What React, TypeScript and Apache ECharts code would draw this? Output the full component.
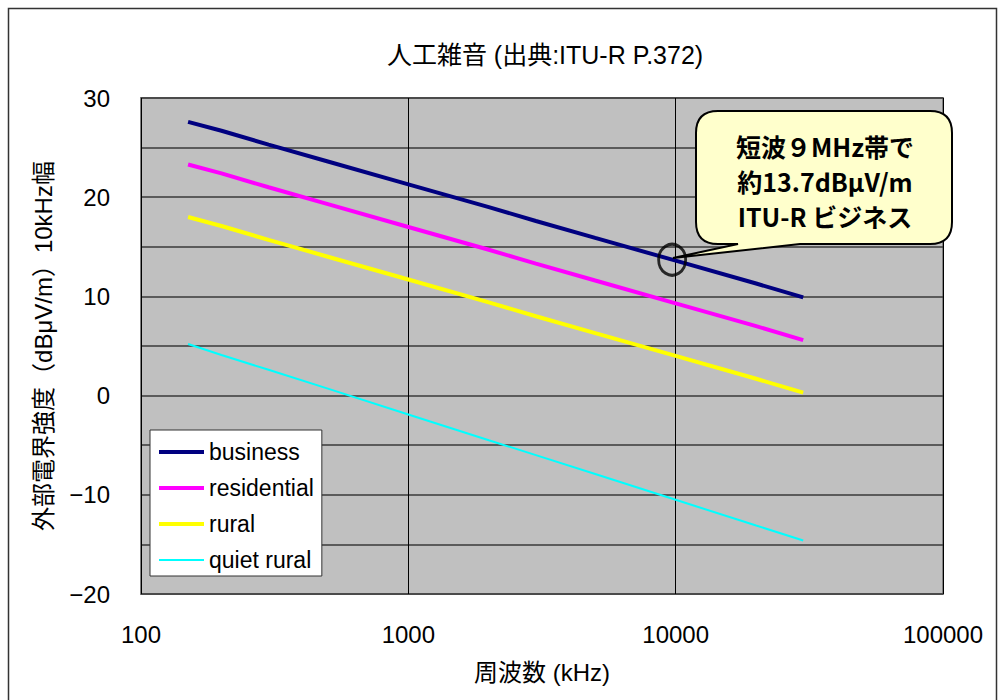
import React, { useEffect, useRef } from "react";
import * as echarts from "echarts";

// Frequencies in kHz and field strength in dBμV/m (10 kHz bandwidth)
const freqKHz = [150, 200, 300, 500, 1000, 2000, 3000, 5000, 10000, 20000, 30000];
const business = [27.6, 26.7, 25.3, 23.6, 21.3, 19.0, 17.6, 15.9, 13.6, 11.3, 9.9];
const residential = [23.3, 22.4, 21.0, 19.3, 17.0, 14.7, 13.3, 11.6, 9.3, 7.0, 5.6];
const rural = [18.0, 17.1, 15.7, 14.0, 11.7, 9.4, 8.0, 6.3, 4.0, 1.7, 0.3];
const quietRural = [5.2, 4.1, 2.6, 0.7, -1.9, -4.5, -6.0, -7.9, -10.5, -13.1, -14.6];

const seriesNames = ["business", "residential", "rural", "quiet rural"];
const seriesColors = ["#000080", "#FF00FF", "#FFFF00", "#00FFFF"];
const seriesWidths = [4, 4, 4, 2];

// Highlighted point: business noise near 9 MHz
const noteFreqKHz = 9700;
const noteValue = 13.7;
const noteLines = ["短波９MHz帯で", "約13.7dBμV/m", "ITU-R ビジネス"];

const TITLE = "人工雑音 (出典:ITU-R P.372)";
const X_NAME = "周波数 (kHz)";
const Y_NAME = "外部電界強度（dBμV/m）10kHz幅";

const FONT = "'Liberation Sans', 'Noto Sans CJK JP', sans-serif";

// Speech-bubble outline with a tail pointing down-left
const CALLOUT_D =
  "M 718 111 H 930 Q 952 111 952 133 V 222 Q 952 244 930 244 H 800 L 673 258 L 738 244 H 718 Q 696 244 696 222 V 133 Q 696 111 718 111 Z";
echarts.graphic.registerShape("callout", echarts.graphic.extendPath(CALLOUT_D, {}));

export default function App() {
  const ref = useRef<HTMLDivElement>(null);

  useEffect(() => {
    if (!ref.current) return;
    const chart = echarts.init(ref.current, null, { renderer: "svg" });

    const dataSets = [business, residential, rural, quietRural];
    const lineSeries = dataSets.map((vals, i) => ({
      name: seriesNames[i],
      type: "line",
      data: freqKHz.map((f, k) => [f, vals[k]]),
      symbol: "none",
      showSymbol: false,
      lineStyle: { color: seriesColors[i], width: seriesWidths[i] },
      itemStyle: { color: seriesColors[i] },
      z: 3,
    }));

    chart.setOption({
      animation: false,
      backgroundColor: "#FFFFFF",
      textStyle: { fontFamily: FONT },
      title: {
        text: TITLE,
        left: 540,
        top: 37,
        textAlign: "center",
        textStyle: { fontFamily: FONT, fontSize: 25, fontWeight: "normal", color: "#000" },
      },
      grid: {
        left: 141,
        right: 55,
        top: 98,
        bottom: 106,
        show: true,
        backgroundColor: "#C0C0C0",
        borderColor: "#808080",
        borderWidth: 2,
      },
      legend: {
        data: seriesNames.map((n, i) => ({
          name: n,
          lineStyle: { color: seriesColors[i], width: seriesWidths[i] },
        })),
        orient: "vertical",
        left: 150,
        top: 430,
        backgroundColor: "#FFFFFF",
        borderColor: "#333333",
        borderWidth: 1,
        padding: [10, 8, 4, 7],
        itemWidth: 45,
        itemHeight: 14,
        itemGap: 12,
        itemStyle: { opacity: 0 },
        textStyle: { fontFamily: FONT, fontSize: 23, color: "#000", lineHeight: 24 },
      },
      xAxis: {
        type: "log",
        logBase: 10,
        min: 100,
        max: 100000,
        name: X_NAME,
        nameLocation: "middle",
        nameGap: 66,
        nameTextStyle: { fontFamily: FONT, fontSize: 24, color: "#000" },
        axisLine: { show: false },
        axisTick: { show: false },
        axisLabel: {
          margin: 28,
          fontFamily: FONT,
          fontSize: 24,
          color: "#000",
          formatter: (v: number) => String(Math.round(v)),
        },
        splitLine: { show: true, lineStyle: { color: "#000", width: 1 } },
        minorSplitLine: { show: false },
      },
      yAxis: {
        type: "value",
        min: -20,
        max: 30,
        interval: 5,
        name: Y_NAME,
        nameLocation: "middle",
        nameGap: 86,
        nameTextStyle: { fontFamily: FONT, fontSize: 24, color: "#000" },
        axisLine: { show: false },
        axisTick: { show: false },
        axisLabel: {
          margin: 31,
          fontFamily: FONT,
          fontSize: 24,
          color: "#000",
          formatter: (v: number) => (v % 10 === 0 ? String(v).replace("-", "−") : ""),
        },
        splitLine: { show: true, lineStyle: { color: "#3A3A3A", width: 1.5 } },
      },
      series: [
        ...lineSeries,
        {
          name: "note",
          type: "scatter",
          data: [[noteFreqKHz, noteValue]],
          symbol: "circle",
          symbolSize: [27, 31],
          itemStyle: { color: "rgba(0,0,0,0)", borderColor: "#000", borderWidth: 3 },
          silent: true,
          z: 5,
        },
      ],
      graphic: [
        {
          type: "rect",
          shape: { x: 8.5, y: 8.5, width: 988, height: 700 },
          style: { fill: "none", stroke: "#333", lineWidth: 1.5 },
          silent: true,
          z: 0,
        },
        {
          type: "callout",
          x: 0,
          y: 0,
          style: { fill: "#FFFFCC", stroke: "#000", lineWidth: 2 },
          z: 10,
        },
        ...noteLines.map((t, i) => ({
          type: "text",
          x: 825,
          y: 146 + i * 35,
          z: 11,
          style: {
            text: t,
            fill: "#000",
            font: `bold 25px 'Noto Sans CJK JP', sans-serif`,
            textAlign: "center",
            textVerticalAlign: "middle",
          },
        })),
      ],
    });

    return () => chart.dispose();
  }, []);

  return (
    <div
      ref={ref}
      style={{ position: "absolute", left: 0, top: 0, width: 998, height: 700 }}
    />
  );
}
